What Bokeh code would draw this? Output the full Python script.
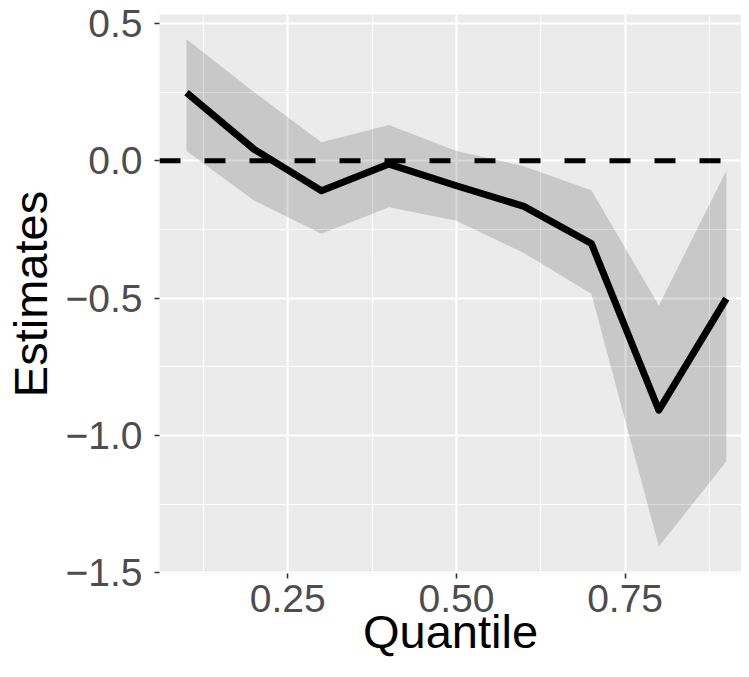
from bokeh.plotting import figure
from bokeh.models import Range1d, FixedTicker, Span
from bokeh.embed import file_html
from bokeh.resources import INLINE

# ---- data ----
quantile = [0.1, 0.2, 0.3, 0.4, 0.5, 0.6, 0.7, 0.8, 0.9]
estimate = [0.248, 0.042, -0.109, -0.012, -0.091, -0.166, -0.301, -0.908, -0.502]
upper = [0.442, 0.250, 0.067, 0.130, 0.036, -0.020, -0.107, -0.527, -0.036]
lower = [0.036, -0.145, -0.266, -0.169, -0.218, -0.336, -0.484, -1.404, -1.095]

x_ticks = [0.25, 0.50, 0.75]
x_tick_labels = ["0.25", "0.50", "0.75"]
x_minor = [0.125, 0.375, 0.625, 0.875]
y_ticks = [-1.5, -1.0, -0.5, 0.0, 0.5]
y_tick_labels = ["\u22121.5", "\u22121.0", "\u22120.5", "0.0", "0.5"]
y_minor = [-1.25, -0.75, -0.25, 0.25]
ref_line = 0.0
x_title = "Quantile"
y_title = "Estimates"

FONT = "Liberation Sans"

p = figure(
    width=741, height=661,
    x_range=Range1d(0.06, 0.9225), y_range=Range1d(-1.5025, 0.5325),
    output_backend="svg", toolbar_location=None,
    min_border_left=158, min_border_right=0, min_border_top=14, min_border_bottom=88,
)
p.background_fill_color = "#EBEBEB"
p.border_fill_color = "white"
p.outline_line_color = None

p.xaxis.ticker = FixedTicker(ticks=x_ticks, minor_ticks=x_minor)
p.yaxis.ticker = FixedTicker(ticks=y_ticks, minor_ticks=y_minor)
p.xaxis.major_label_overrides = {v: s for v, s in zip(x_ticks, x_tick_labels)}
p.yaxis.major_label_overrides = {v: s for v, s in zip(y_ticks, y_tick_labels)}

for g in (p.xgrid, p.ygrid):
    g.grid_line_color = "white"
    g.grid_line_width = 2.2
    g.minor_grid_line_color = "white"
    g.minor_grid_line_width = 1.1

for ax in (p.xaxis, p.yaxis):
    ax.axis_line_color = None
    ax.major_tick_line_color = "#333333"
    ax.major_tick_line_width = 1.6
    ax.major_tick_out = 5
    ax.major_tick_in = 0
    ax.minor_tick_line_color = None
    ax.major_label_text_font = FONT
    ax.major_label_text_font_size = "39px"
    ax.major_label_text_color = "#4D4D4D"
    ax.axis_label_text_font = FONT
    ax.axis_label_text_font_size = "47px"
    ax.axis_label_text_font_style = "normal"
    ax.axis_label_text_color = "black"

p.xaxis.axis_label = x_title
p.yaxis.axis_label = y_title
p.xaxis.major_label_standoff = 6
p.yaxis.major_label_standoff = 12
p.xaxis.axis_label_standoff = -10
p.yaxis.axis_label_standoff = 6

p.varea(x=quantile, y1=lower, y2=upper, fill_color="black", fill_alpha=0.15)
p.line(x=quantile, y=estimate, line_color="black", line_width=7, line_join="round")
p.add_layout(Span(location=ref_line, dimension="width", line_color="black",
                  line_width=5, line_dash="21 24"))

open("out.html", "w").write(file_html(p, INLINE))
